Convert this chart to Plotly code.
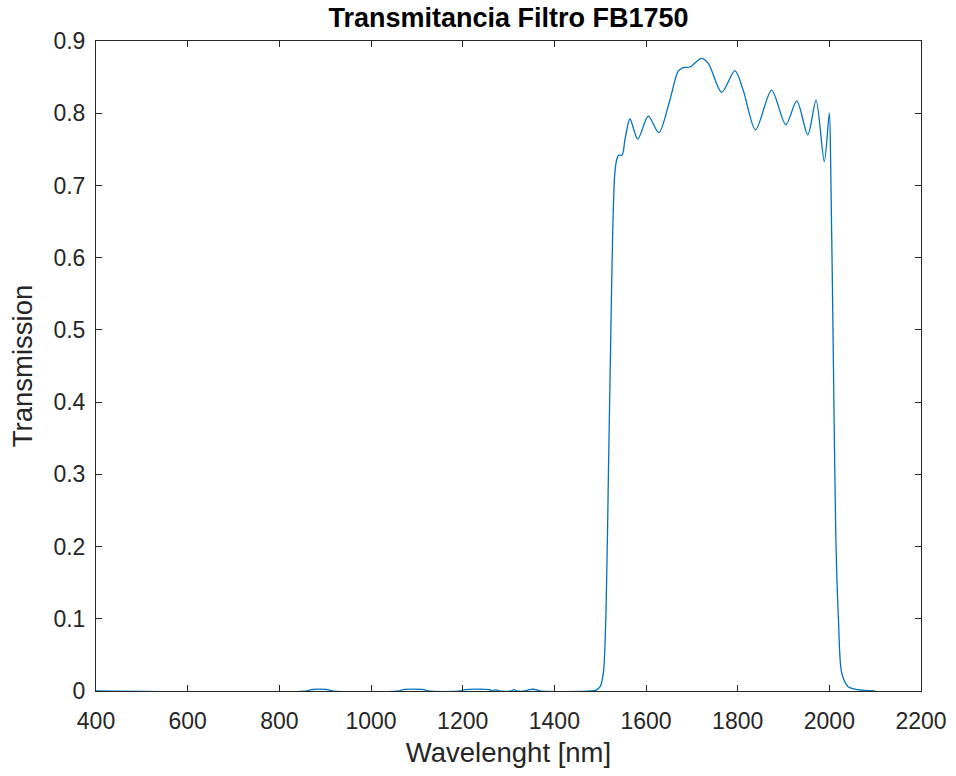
import plotly.graph_objects as go

# Wavelength [nm]
wavelength = [400, 860, 870, 905, 915, 1060, 1070, 1115, 1125, 1195, 1205, 1258, 1265,
              1272, 1279, 1305, 1312, 1319, 1335, 1345, 1360, 1368, 1480, 1490, 1500,
              1507, 1513, 1518, 1523, 1527, 1532, 1537, 1541, 1548, 1554, 1565, 1582,
              1605, 1628, 1652, 1670, 1681, 1696, 1721, 1736, 1765, 1794, 1812, 1839,
              1874, 1905, 1929, 1953, 1971, 1989, 2000, 2003, 2009, 2014, 2020, 2027,
              2041, 2062, 2100]
# Transmission
transmission = [0, 0, 0.002, 0.002, 0, 0, 0.002, 0.002, 0, 0, 0.002, 0.002, 0,
                0.002, 0, 0, 0.002, 0, 0, 0.002, 0.002, 0, 0, 0.001, 0.006,
                0.025, 0.117, 0.301, 0.486, 0.624, 0.717, 0.738, 0.742, 0.742, 0.763, 0.792, 0.764,
                0.796, 0.773, 0.818, 0.858, 0.863, 0.864, 0.876, 0.869, 0.829, 0.859, 0.832, 0.777,
                0.832, 0.784, 0.817, 0.770, 0.818, 0.733, 0.800, 0.726, 0.449, 0.218, 0.098, 0.025,
                0.006, 0.002, 0]

x_ticks = [400, 600, 800, 1000, 1200, 1400, 1600, 1800, 2000, 2200]
y_ticks = [0, 0.1, 0.2, 0.3, 0.4, 0.5, 0.6, 0.7, 0.8, 0.9]
y_tick_text = ["0", "0.1", "0.2", "0.3", "0.4", "0.5", "0.6", "0.7", "0.8", "0.9"]

FONT = "Liberation Sans, Arial, sans-serif"
AX = "#262626"

fig = go.Figure()
fig.add_trace(go.Scatter(
    x=wavelength, y=transmission, mode="lines",
    line=dict(color="#0072BD", width=1.3, shape="spline", smoothing=0.8),
    showlegend=False, hoverinfo="x+y",
))

axis_common = dict(
    showgrid=False, zeroline=False, showline=True, linecolor=AX, linewidth=1,
    mirror="ticks", ticks="inside", ticklen=6, tickwidth=1, tickcolor=AX,
    tickfont=dict(family=FONT, size=23, color=AX), automargin=False,
)

fig.update_layout(
    width=956, height=776,
    margin=dict(l=96, r=35, t=41, b=85),
    paper_bgcolor="white", plot_bgcolor="white",
    font=dict(family=FONT, color=AX),
    title=dict(text="<b>Transmitancia Filtro FB1750</b>",
               font=dict(family=FONT, size=27, color="black"),
               x=0.5, xref="paper", xanchor="center",
               y=1 - 18 / 776, yref="container", yanchor="middle"),
    xaxis=dict(range=[400, 2200], tickvals=x_ticks, ticktext=[str(v) for v in x_ticks],
               ticklabelstandoff=9,
               title=dict(text="Wavelenght [nm]", font=dict(family=FONT, size=27.5, color=AX),
                          standoff=10),
               **axis_common),
    yaxis=dict(range=[0, 0.9], tickvals=y_ticks, ticktext=y_tick_text,
               ticklabelstandoff=5,
               title=dict(text="Transmission", font=dict(family=FONT, size=27.5, color=AX),
                          standoff=12),
               **axis_common),
)

fig.write_html("out.html")
